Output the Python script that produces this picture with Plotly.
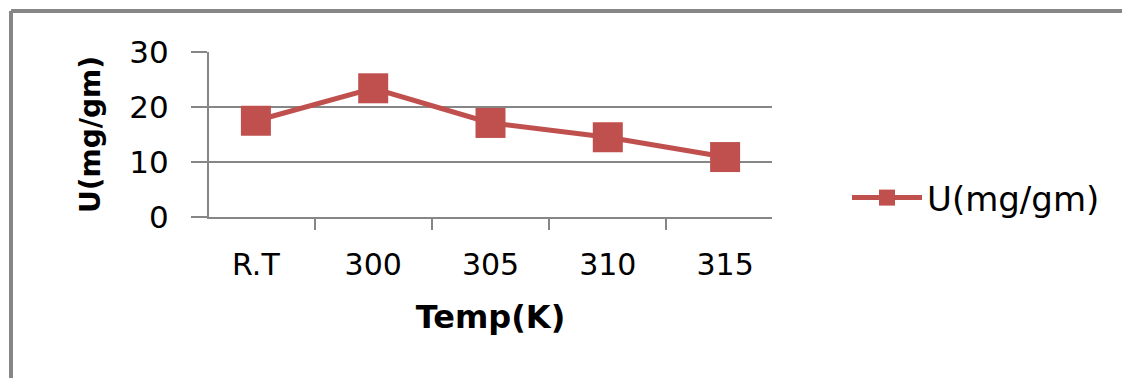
import plotly.graph_objects as go

categories = ["R.T", "300", "305", "310", "315"]
u_values = [17.5, 23.4, 17.1, 14.5, 10.9]
series_name = "U(mg/gm)"
y_ticks = [0, 10, 20, 30]

RED = "#C0504D"
GRID = "#868686"
FONT = "DejaVu Sans"

OFF = 8  # browser body margin
W, H = 1130 - OFF, 378 - OFF
L, R, T, B = 209 - OFF, 358, 52 - OFF, 161
pw, ph = W - L - R, H - T - B


def px_x(x):
    return (x - OFF - L) / pw


def px_y(y):
    return (H - B - (y - OFF)) / ph


fig = go.Figure()
fig.add_trace(go.Scatter(
    x=categories, y=u_values, name=series_name, mode="lines+markers",
    line=dict(color=RED, width=5),
    marker=dict(symbol="square", size=30, color=RED),
))

fig.update_layout(
    width=W, height=H,
    margin=dict(l=L, r=R, t=T, b=B, autoexpand=False),
    paper_bgcolor="white", plot_bgcolor="white",
    font=dict(family=FONT, size=30, color="#000000"),
    showlegend=True,
    legend=dict(x=px_x(847), y=px_y(198), xanchor="left", yanchor="middle",
                itemwidth=70,
                font=dict(size=34, family=FONT), bgcolor="rgba(0,0,0,0)"),
    xaxis=dict(
        type="category", showgrid=False, showline=True, linecolor=GRID, linewidth=2,
        ticks="outside", tickson="boundaries", ticklen=11, tickcolor=GRID, tickwidth=2,
        ticklabelstandoff=20,
        title=dict(text="<b>Temp(K)</b>", font=dict(size=32, family=FONT), standoff=25),
        automargin=False,
    ),
    yaxis=dict(
        range=[0, 30], tickvals=y_ticks, showgrid=True, gridcolor=GRID, gridwidth=2,
        showline=True, linecolor=GRID, linewidth=2, zeroline=False,
        ticks="outside", ticklen=16, tickcolor=GRID, tickwidth=2,
        ticklabelstandoff=16, tickfont=dict(size=31),
        title=dict(text="<b>U(mg/gm)</b>", font=dict(size=28, family=FONT), standoff=21),
        automargin=False,
    ),
    shapes=[
        dict(type="line", xref="paper", yref="paper", x0=px_x(11), x1=px_x(1140),
             y0=px_y(11), y1=px_y(11), line=dict(color=GRID, width=4)),
        dict(type="line", xref="paper", yref="paper", x0=px_x(11), x1=px_x(11),
             y0=px_y(11), y1=px_y(390), line=dict(color=GRID, width=4)),
    ],
)

fig.write_html("out.html")
